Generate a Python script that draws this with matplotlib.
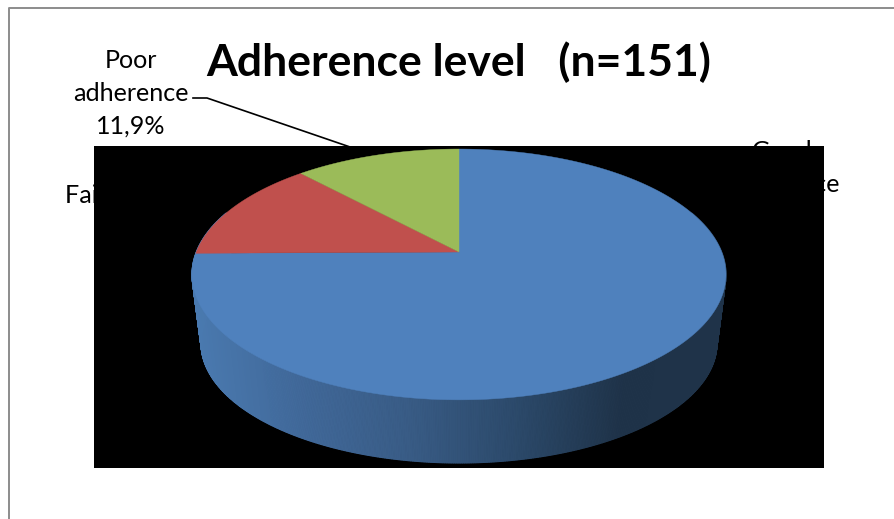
import matplotlib
matplotlib.use('Agg')
import matplotlib.pyplot as plt
import numpy as np
from matplotlib.colors import LinearSegmentedColormap
from matplotlib.patches import Polygon, Rectangle

title = 'Adherence level   (n=151)'
categories = ['Good\nadherence', 'Fair adherence', 'Poor\nadherence']
counts = [113, 20, 18]
percent_labels = ['74,8%', '13,2%', '11,9%']
slice_colors = ['#4F81BD', '#C0504D', '#9BBB59']

WIDTH, HEIGHT = 895, 519
CX = 459
TILT = 0.179  # perspective strength of the 3D pie

# rim geometry: (centre y, x radius, y radius) of top face and base
TOP_RIM = (252, 262.7, 121.4)
BASE_RIM = (321.7, 253.8, 116.0)

side_cmap = LinearSegmentedColormap.from_list(
    'side', ['#4A7AB0', '#41699A', '#395C86', '#2C4A6B', '#1F3349', '#1F3349'])


def project(theta, rim):
    # theta runs clockwise from 12 o'clock
    cy, rx, ry = rim
    w = 1 + TILT * np.cos(theta)
    return CX + rx * np.sin(theta) / w, cy - ry * np.cos(theta) / w


plt.rcParams['font.family'] = ['Lato', 'DejaVu Sans']

fig = plt.figure(figsize=(WIDTH / 100, HEIGHT / 100), dpi=100)
ax = fig.add_axes([0, 0, 1, 1])
ax.set_xlim(0, WIDTH)
ax.set_ylim(HEIGHT, 0)
ax.axis('off')

# page frame, top and left only
ax.plot([9, 9, WIDTH], [HEIGHT, 8, 8], color='#8c8c8c', lw=1.4, zorder=1)

ax.text(459, 62, title, fontsize=32, fontweight='bold', ha='center', va='center', zorder=2)

# data labels and leader line sit under the plot area
label_style = dict(fontsize=18.1, ha='center', va='center', linespacing=1.5, zorder=2)
ax.text(131, 93.5, f'{categories[2]}\n{percent_labels[2]}', **label_style)
ax.text(782, 184, f'{categories[0]}\n{percent_labels[0]}', **label_style)
ax.text(147, 212, f'{categories[1]}\n{percent_labels[1]}', **label_style)
ax.plot([193, 207, 353], [98, 98, 148], color='black', lw=1.2, zorder=2)

# black plot area
ax.add_patch(Rectangle((94, 146), 730, 322, facecolor='black', edgecolor='none', zorder=3))

# side wall, painted as thin strips around the front of the pie
angles = np.radians(np.linspace(70, 290, 661))
for a0, a1 in zip(angles[:-1], angles[1:]):
    x0, y0 = project(a0, TOP_RIM)
    x1, y1 = project(a1, TOP_RIM)
    x2, y2 = project(a1, BASE_RIM)
    x3, y3 = project(a0, BASE_RIM)
    shade = np.clip((0.5 * (x2 + x3) - 195) / 530, 0, 1)
    ax.add_patch(Polygon([(x0, y0), (x1, y1), (x2, y2), (x3, y3)], closed=True,
                         facecolor=side_cmap(shade), edgecolor=side_cmap(shade),
                         lw=0.8, zorder=4))

# top face, one wedge per category
shares = np.array(counts) / sum(counts)
edges = np.concatenate([[0], np.cumsum(shares)]) * 2 * np.pi
centre = project(np.pi / 2, (TOP_RIM[0], 0, 0))
for start, stop, color in zip(edges[:-1], edges[1:], slice_colors):
    theta = np.linspace(start, stop, 300)
    xs, ys = project(theta, TOP_RIM)
    pts = [centre] + list(zip(xs, ys))
    ax.add_patch(Polygon(pts, closed=True, facecolor=color, edgecolor=color, lw=0.3, zorder=5))

fig.savefig('out.png', dpi=100)
